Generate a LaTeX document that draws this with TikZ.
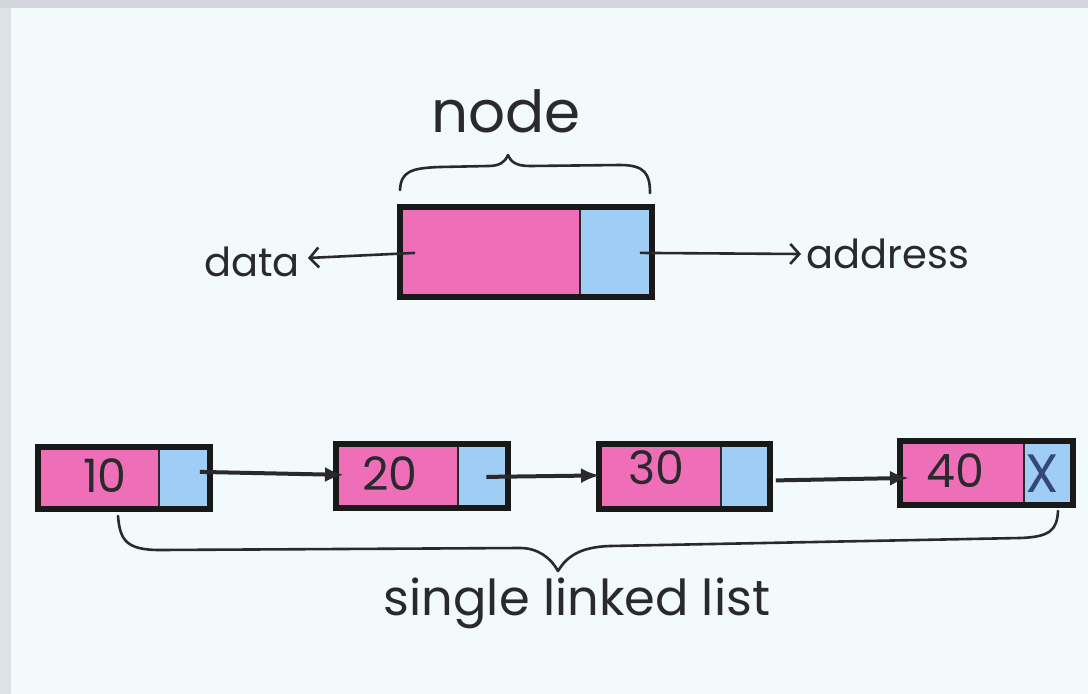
\documentclass[tikz,border=0pt]{standalone}
\usepackage{fontspec}
\setmainfont{Poppins}
\usetikzlibrary{arrows.meta,calc}
\definecolor{bgcol}{HTML}{F3FAFB}
\definecolor{edgecol}{HTML}{DDE1E8}
\definecolor{cellpink}{HTML}{EE6FB8}
\definecolor{cellblue}{HTML}{A0CDF3}
\definecolor{inkcol}{HTML}{2A2A2E}
\definecolor{xcol}{HTML}{34477A}
\tikzset{
  cellpart/.style={draw=inkcol, line width=1.8pt, inner sep=0pt, anchor=north west},
  pinkcell/.style={cellpart, fill=cellpink},
  bluecell/.style={cellpart, fill=cellblue},
  outerframe/.style={draw=black!90, line width=5.5pt},
  numtext/.style={text=inkcol, inner sep=0pt, font=\fontsize{46}{50}\selectfont},
  labeltext/.style={text=inkcol, inner sep=0pt, anchor=base},
  pointer/.style={draw=inkcol, line width=4pt, -{Latex[length=19pt,width=15pt]}},
  fieldarrow/.style={draw=inkcol, line width=2.6pt, -{Straight Barb[length=9pt,width=20pt,line width=2.6pt]}},
  brace/.style={draw=inkcol, line width=2.6pt, line cap=round, line join=round},
}
\begin{document}
\begin{tikzpicture}[x=1pt,y=-1pt]
  \useasboundingbox (0,0) rectangle (1088,694);
  % page background with the grey rim along the top and left
  \fill[bgcol] (0,0) rectangle (1088,694);
  \fill[edgecol] (0,0) rectangle (11,694);
  \fill[edgecol!95!black] (0,0) rectangle (1088,8);

  % ---------- single node ----------
  \node[pinkcell, minimum width=179pt, minimum height=88pt] (ptop) at (400,207) {};
  \node[bluecell, minimum width=71pt, minimum height=88pt] (btop) at (579,207) {};
  \draw[outerframe] (ptop.north west) rectangle (btop.south east);

  \node[labeltext, font=\fontsize{58}{62}\selectfont] (nodelbl) at (506,132) {node};
  \node[labeltext, font=\fontsize{40}{44}\selectfont] (datalbl) at (252,276) {data};
  \node[labeltext, font=\fontsize{40}{44}\selectfont] (addrlbl) at (888,268) {address};

  \coordinate (datatip) at (308,258);
  \coordinate (addrtip) at (801,254);
  \draw[fieldarrow] ($(ptop.west)+(15,1)$) -- (datatip);
  \draw[fieldarrow] ($(btop.east)+(-12,1)$) -- (addrtip);

  % brace over the node
  \draw[brace] (400,190) .. controls (401,172) and (410,168) .. (440,167)
    -- (488,166) .. controls (500,166) and (505,162) .. (508,155)
    .. controls (511,162) and (516,166) .. (530,166)
    -- (620,165) .. controls (645,165) and (650,174) .. (650,193);

  % ---------- linked list ----------
  \node[pinkcell, minimum width=120pt, minimum height=60pt] (p1) at (38,447) {};
  \node[bluecell, minimum width=50pt, minimum height=60pt] (b1) at (158,447) {};
  \draw[outerframe] (p1.north west) rectangle (b1.south east);
  \node[numtext] (v1) at (105,476) {10};

  \node[pinkcell, minimum width=121pt, minimum height=62pt] (p2) at (336,444) {};
  \node[bluecell, minimum width=49pt, minimum height=62pt] (b2) at (457,444) {};
  \draw[outerframe] (p2.north west) rectangle (b2.south east);
  \node[numtext] (v2) at (390,474) {20};

  \node[pinkcell, minimum width=121pt, minimum height=63pt] (p3) at (599,444) {};
  \node[bluecell, minimum width=48pt, minimum height=63pt] (b3) at (720,444) {};
  \draw[outerframe] (p3.north west) rectangle (b3.south east);
  \node[numtext] (v3) at (656,468) {30};

  \node[pinkcell, minimum width=123pt, minimum height=62pt] (p4) at (900,441) {};
  \node[bluecell, minimum width=48pt, minimum height=62pt] (b4) at (1023,441) {};
  \draw[outerframe] (p4.north west) rectangle (b4.south east);
  \node[numtext] (v4) at (955,471) {40};
  \node[numtext, text=xcol, font=\fontsize{54}{58}\selectfont] (nil) at (1042,474) {X};

  \draw[pointer] ($(b1.center)+(16,-6)$) -- ($(p2.west)+(8,-1)$);
  \draw[pointer] ($(b2.center)+(4,1)$) -- ($(p3.west)+(1,-1)$);
  \draw[pointer] ($(b3.east)+(6,4)$) -- ($(p4.west)+(9,5)$);

  % brace under the list
  \draw[brace] (118,516) .. controls (120,540) and (126,550) .. (160,550)
    -- (520,548) .. controls (538,548) and (551,558) .. (558,571)
    .. controls (566,558) and (578,547) .. (610,546)
    -- (1020,538) .. controls (1050,537) and (1057,530) .. (1058,511);

  \node[labeltext, font=\fontsize{49.5}{54}\selectfont] (listlbl) at (577,615) {single linked list};
\end{tikzpicture}
\end{document}
